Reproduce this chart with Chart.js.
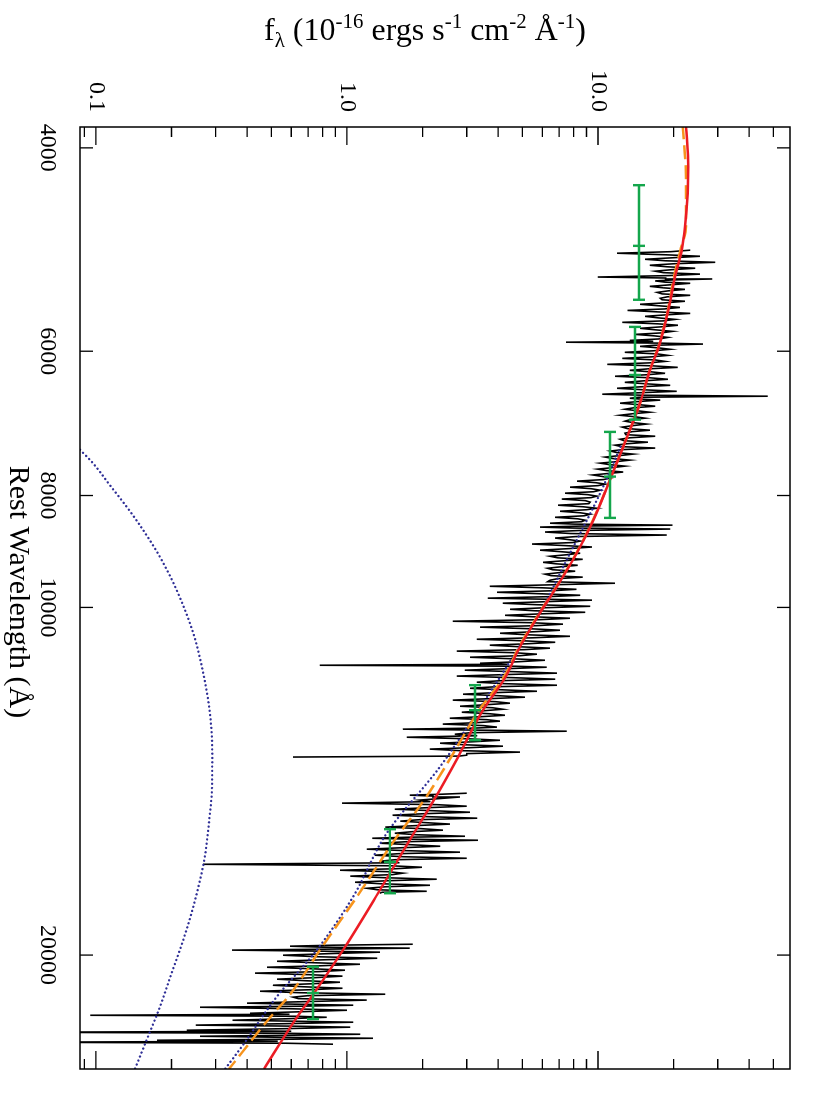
<!DOCTYPE html>
<html>
<head>
<meta charset="utf-8">
<script src="https://cdn.jsdelivr.net/npm/chart.js@4.4.1/dist/chart.umd.min.js"></script>
<style>
  html, body { margin: 0; padding: 0; background: #fff; overflow: hidden; }
  #page { position: relative; width: 830px; height: 1107px; }
  /* the plot is drawn landscape and turned a quarter clockwise */
  #wrap { position: absolute; left: 0; top: 0; width: 1107px; height: 830px;
          transform-origin: 0 0; transform: translate(830px, 0) rotate(90deg); }
</style>
</head>
<body>
<div id="page"><div id="wrap"><canvas id="sed" width="1107" height="830"></canvas></div></div>
<script>
const FONT = "'Liberation Serif', 'Times New Roman', serif";

// observed spectrum, noise excursions: rest wavelength (Å) / flux (1e-16 erg s-1 cm-2 Å-1), null = telluric gap
const specWave = [
  4905, 4935, 4965, 4995, 5025, 5055, 5085, 5115, 5145, 5175, 5195, 5215, 5240, 5272, 5304, 5336,
  5367, 5399, 5431, 5464, 5498, 5531, 5564, 5597, 5631, 5664, 5697, 5732, 5767, 5802, 5837, 5872,
  5893, 5915, 5942, 5977, 6013, 6050, 6086, 6123, 6159, 6196, 6233, 6270, 6307, 6345, 6384, 6422,
  6460, 6499, 6537, 6563, 6590, 6614, 6655, 6695, 6736, 6776, 6817, 6857, 6898,
  6938, 6980, 7023, 7065, 7108, 7151, 7193, 7236, 7278, 7321, 7366, 7410, 7455, 7500, 7545, 7590,
  7634, 7679, 7726, 7774, 7821, 7868, 7916, 7963, 8010, 8057, 8106, 8156, 8206, 8255, 8305, 8355,
  8404, 8454, 8487, 8520, 8553, 8604, 8656, 8708, 8761, 8813, 8865, 8921, 8976, 9030, 9085, 9140,
  9194, 9249, 9303, 9358, 9414, 9472, 9529, 9587, 9645, 9702, 9760, 9817,
  9856, 9916, 9977, 10037, 10097, 10158, 10218, 10279, 10339, 10401, 10465, 10528, 10592, 10655,
  10719, 10782, 10846, 10910, 10977, 11044, 11110, 11177, 11222, 11266, 11333, 11400, 11467, 11538,
  11608, 11678, 11749, 11819, 11889, 11960, 12030, 12104, 12177, 12251, 12324, 12398, 12472, 12545,
  12619, 12695, 12747, 12799, 12876, 12954, 13032, 13109, 13187, 13264, 13344, 13425, 13476,
  14000,
  14483, 14540, 14593, 14683, 14773, 14863, 14953, 15043, 15133, 15223, 15313, 15403, 15496, 15591,
  15686, 15781, 15844, 15907, 16002, 16098, 16193, 16290, 16389, 16489, 16588, 16688, 16787, 16887,
  16986, 17087, 17192, 17296, 17401, 17506, 17611, 17680,
  18600,
  19572, 19649, 19726, 19803, 19884, 20005, 20126, 20248, 20369, 20491, 20612, 20733, 20857, 20984,
  21112, 21240, 21367, 21495, 21623, 21750, 21878, 22012, 22102, 22192, 22326, 22460, 22550, 22640,
  22774, 22864, 22998, 23092, 23233, 23327, 23420, 23514, 23608, 23702, 23796, 23890
];
const specFlux = [
  23.3, 11.9, 25.5, 15.4, 29.3, 16.1, 24.4, 16.9, 25.5, 9.97, 28.5, 16.9, 23.3, 16.1, 22.2, 17.2,
  23.3, 17.7, 22.2, 14.7, 21.2, 13.1, 23.3, 15.4, 20.3, 12.5, 20.8, 14.7, 19.8, 14.05, 19.0, 13.4,
  7.46, 26.2, 14.7, 19.4, 12.8, 19.0, 12.5, 18.5, 10.9, 20.8, 13.4, 18.5, 11.7, 19.0, 12.8, 19.4,
  11.9, 20.6, 10.4, 47.5, 13.4, 17.7, 12.25, 16.9, 12.8, 16.1, 12.25, 15.4, 12.8,
  15.6, 12.5, 16.1, 12.8, 16.9, 12.25, 15.8, 11.7, 16.9, 11.2, 13.8, 10.7, 13.4, 10.2, 12.8, 9.97,
  12.6, 9.53, 11.2, 8.25, 10.7, 7.74, 10.2, 7.40, 9.9, 7.18, 9.31, 6.93, 9.9, 7.06, 9.31, 6.75,
  8.89, 6.44, 19.8, 5.88, 19.4, 6.15, 18.8, 6.75, 8.49, 5.46, 9.46, 5.88, 8.49, 6.44, 8.7, 6.04,
  8.3, 6.3, 8.11, 6.15, 8.7, 6.44, 11.7, 3.71, 8.2, 3.96, 8.49, 3.64,
  9.46, 4.18, 9.31, 4.46, 8.89, 4.26, 7.74, 2.64, 7.25, 3.39, 7.06, 4.07, 7.74, 3.29,
  6.75, 3.71, 6.44, 2.74, 5.71, 3.09, 6.15, 3.39, 0.78, 6.25, 2.95, 6.87, 2.74, 6.75,
  3.29, 6.87, 3.09, 5.71, 2.90, 5.12, 2.64, 4.46, 2.82, 4.18, 2.87, 4.26, 2.57, 4.07,
  2.41, 3.96, 1.67, 7.5, 2.69, 1.73, 4.07, 2.35, 4.18, 2.14, 4.89, 3.0, 0.61,
  null,
  3.0, 1.78, 2.82, 1.95, 0.955, 3.0, 1.55, 3.09, 1.52, 3.3, 1.63, 2.57, 1.42, 2.41,
  1.55, 2.95, 1.26, 3.33, 1.353, 2.35, 1.20, 2.82, 1.29, 3.0, 1.353, 0.267, 1.99, 0.938,
  1.67, 1.03, 2.28, 1.076, 2.14, 1.2, 2.08, 1.35,
  null,
  1.83, 0.593, 1.78, 0.348, 1.353, 0.556, 1.32, 0.526, 1.127, 0.48, 0.982, 0.43, 0.96, 0.526,
  0.938, 0.507, 0.96, 0.45, 1.42, 0.61, 1.2, 0.40, 1.06, 0.26, 1.0, 0.411, 0.095, 0.83,
  0.35, 1.06, 0.25, 1.03, 0.23, 0.05, 1.13, 0.26, 1.27, 0.175, 0.05, 0.88
];

// dense core of the spectrum between the excursions
const coreWave = [
  4920, 4950, 4980, 5010, 5040, 5070, 5100, 5130, 5160, 5185, 5205, 5228, 5256, 5288, 5320, 5352,
  5383, 5415, 5448, 5481, 5515, 5548, 5581, 5614, 5648, 5681, 5715, 5750, 5785, 5820, 5855, 5883,
  5904, 5929, 5960, 5995, 6032, 6068, 6105, 6141, 6178, 6215, 6252, 6289, 6326, 6365, 6403, 6441,
  6480, 6518, 6550, 6577, 6602, 6635, 6675, 6716, 6756, 6797, 6837, 6878, 6918,
  6959, 7001, 7044, 7086, 7130, 7172, 7215, 7257, 7300, 7344, 7388, 7432, 7478, 7522, 7568, 7612,
  7656, 7702, 7750, 7798, 7844, 7892, 7940, 7986, 8034, 8082, 8131, 8181, 8230, 8280, 8330, 8380,
  8429, 8470, 8503, 8536, 8578, 8630, 8682, 8734, 8787, 8839, 8893, 8948, 9003, 9058, 9112, 9167,
  9222, 9276, 9330, 9386, 9443, 9500, 9558, 9616, 9674, 9731, 9788, 9836,
  9886, 9946, 10007, 10067, 10128, 10188, 10248, 10309, 10370, 10433, 10496, 10560, 10624, 10687,
  10750, 10814, 10878, 10944, 11010, 11077, 11144, 11200, 11244, 11300, 11366, 11434, 11502, 11573,
  11643, 11714, 11784, 11854, 11924, 11995, 12067, 12140, 12214, 12288, 12361, 12435, 12508, 12582,
  12657, 12721, 12773, 12838, 12915, 12993, 13070, 13148, 13226, 13304, 13384, 13450,
  14512, 14566, 14638, 14728, 14818, 14908, 14998, 15088, 15178, 15268, 15358, 15450, 15544, 15638,
  15734, 15812, 15876, 15954, 16050, 16146, 16242, 16340, 16439, 16538, 16638, 16738, 16837, 16936,
  17036, 17140, 17244, 17348, 17454, 17558, 17646,
  19610, 19688, 19764, 19844, 19944, 20066, 20187, 20308, 20430, 20552, 20672, 20795, 20920, 21048,
  21176, 21304, 21431, 21559, 21686, 21814, 21945, 22057, 22147, 22259, 22393, 22505, 22595, 22707,
  22819, 22931, 23045, 23162, 23280, 23373, 23467, 23561, 23655, 23749, 23843
];
const coreFlux = [
  19.5, 18.4, 19.8, 18.6, 20.0, 18.8, 19.6, 18.2, 19.2, 18.6, 19.9, 18.5, 19.4, 18.3, 19.0, 18.0,
  18.9, 18.0, 18.6, 17.6, 18.4, 17.5, 18.5, 17.4, 18.2, 17.3, 17.9, 17.0, 17.8, 16.9, 17.5, 16.6,
  17.8, 16.8, 17.4, 16.6, 17.2, 16.3, 16.9, 16.0, 16.6, 15.8, 16.3, 15.5, 16.0, 15.2, 15.6, 14.8,
  15.3, 14.6, 15.0, 14.5, 14.9, 14.2, 14.6, 13.9, 14.3, 13.7, 14.0, 13.4, 13.8,
  13.8, 13.1, 13.6, 12.9, 13.4, 12.7, 13.1, 12.4, 12.6, 11.9, 12.2, 11.5, 11.8, 11.1, 11.4, 10.8,
  11.0, 10.4, 10.5, 9.8, 10.0, 9.4, 9.6, 9.1, 9.4, 8.9, 9.2, 8.7, 9.0, 8.5, 8.8, 8.3,
  8.6, 8.1, 8.5, 7.9, 8.4, 7.8, 8.2, 7.6, 7.9, 7.3, 7.7, 7.1, 7.5, 6.9, 7.3, 6.8,
  7.1, 6.6, 7.0, 6.5, 6.9, 6.3, 6.7, 6.0, 6.5, 5.9, 6.3, 5.9,
  6.2, 5.7, 6.1, 5.6, 6.0, 5.5, 5.8, 5.4, 5.7, 5.3, 5.6, 5.2, 5.5, 5.0,
  5.3, 4.8, 5.1, 4.6, 4.9, 4.5, 4.8, 4.4, 4.7, 4.3, 4.6, 4.2, 4.5, 4.1,
  4.3, 3.9, 4.1, 3.8, 4.0, 3.7, 3.9, 3.6, 3.8, 3.5, 3.7, 3.4, 3.6, 3.3,
  3.5, 3.2, 3.4, 3.1, 3.3, 3.0, 3.2, 2.9, 3.1, 2.8, 3.0, 2.8,
  2.40, 2.20, 2.35, 2.15, 2.28, 2.08, 2.20, 2.02, 2.12, 1.95, 2.05, 1.88, 1.98, 1.82,
  1.90, 1.76, 1.85, 1.72, 1.80, 1.66, 1.74, 1.60, 1.68, 1.55, 1.62, 1.50, 1.56, 1.45,
  1.52, 1.40, 1.46, 1.36, 1.42, 1.32, 1.38,
  0.88, 0.80, 0.86, 0.78, 0.84, 0.76, 0.82, 0.74, 0.79, 0.72, 0.77, 0.70, 0.75, 0.68,
  0.73, 0.67, 0.71, 0.65, 0.70, 0.64, 0.68, 0.62, 0.66, 0.60, 0.65, 0.59, 0.63, 0.58,
  0.62, 0.57, 0.61, 0.56, 0.60, 0.55, 0.59, 0.54, 0.58, 0.53, 0.57
];

// model curves
const fitWave = [3824, 4155, 4378, 4682, 4905, 5172, 5529, 5903, 6229, 6653, 7260, 7757, 8404, 8974,
  9598, 10114, 10817, 11510, 12274, 13476, 14683, 15894, 17680, 19680, 21580, 22770, 25100];
const fitFlux = [22.41, 22.9, 22.77, 22.21, 21.55, 20.27, 19.06, 17.66, 16.11, 14.7, 12.61, 11.16, 9.58, 8.23,
  6.85, 5.87, 4.89, 4.26, 3.48, 2.77, 2.22, 1.78, 1.33, 0.982, 0.739, 0.621, 0.467];

const totalWave = [3824, 4241, 4678, 4905, 5172, 5529, 5903, 6229, 6653, 7260, 7757, 8404, 8974,
  9598, 10114, 10817, 11510, 12274, 13476, 14683, 15894, 17680, 19680, 21580, 22770, 25100];
const totalFlux = [21.75, 22.41, 22.41, 21.3, 20.1, 19.0, 17.6, 16.1, 14.7, 12.6, 11.15, 9.55, 8.2,
  6.83, 5.84, 4.85, 4.2, 3.36, 2.6, 2.03, 1.55, 1.12, 0.795, 0.598, 0.484, 0.339];

const plawWave = [7260, 7967, 9099, 9915, 11035, 12030, 13740, 15690, 17810, 19803, 21740, 24010, 25100];
const plawFlux = [12.3, 10.19, 7.5, 6.15, 4.585, 3.546, 2.348, 1.44, 1.057, 0.758, 0.525, 0.381, 0.327];

const dustWave = [7302, 7504, 7837, 8182, 8572, 9042, 9661, 10530, 11405, 12354, 13376, 14297, 15285,
  16552, 18163, 19410, 20734, 22174, 23693, 25100];
const dustFlux = [0.0864, 0.0975, 0.1137, 0.1326, 0.1543, 0.1799, 0.2097, 0.2442, 0.2677, 0.2845, 0.2906,
  0.29, 0.2827, 0.27, 0.2442, 0.2227, 0.2002, 0.1799, 0.1592, 0.143];

// broad-band photometry
const photWave = [4863, 6291, 7704, 12274, 16610, 21570];
const photLo = [4309, 5716, 7047, 11676, 15560, 20470];
const photHi = [5415, 6877, 8365, 13030, 17680, 22720];
const photFlux = [14.56, 14.04, 11.16, 3.236, 1.483, 0.732];

// axes
const waveTicks = [4000, 6000, 8000, 10000, 20000];
const waveLabels = ['4000', '6000', '8000', '10000', '20000'];
const fluxMajor = [0.1, 1, 10];
const fluxLabels = ['0.1', '1.0', '10.0'];
const fluxMinor = [0.09, 0.2, 0.3, 0.4, 0.5, 0.6, 0.7, 0.8, 0.9, 2, 3, 4, 5, 6, 7, 8, 9, 20, 30, 40, 50];
const fluxTitle = [['f', 0], ['λ', -1], [' (10', 0], ['-16', 1], [' ergs s', 0], ['-1', 1], [' cm', 0],
  ['-2', 1], [' Å', 0], ['-1', 1], [')', 0]];

const pts = (xs, ys) => xs.map((x, i) => ({ x, y: ys[i] }));
const spectrum = pts(specWave, specFlux).concat(pts(coreWave, coreFlux)).sort((a, b) => a.x - b.x);

function drawRich(ctx, parts, cx, cy) {
  const big = `32px ${FONT}`, small = `21px ${FONT}`;
  let w = 0;
  parts.forEach(([t, s]) => { ctx.font = s ? small : big; w += ctx.measureText(t).width; });
  let px = cx - w / 2;
  ctx.textAlign = 'left';
  ctx.textBaseline = 'alphabetic';
  parts.forEach(([t, s]) => {
    ctx.font = s ? small : big;
    ctx.fillText(t, px, cy + (s > 0 ? -12 : s < 0 ? 7 : 0));
    px += ctx.measureText(t).width;
  });
}

const photBars = {
  id: 'photBars',
  afterDatasetsDraw(chart) {
    const { ctx, scales: { x, y } } = chart;
    ctx.save();
    ctx.strokeStyle = '#14a64c';
    ctx.lineWidth = 2.4;
    photWave.forEach((w, i) => {
      const py = y.getPixelForValue(photFlux[i]);
      const x0 = x.getPixelForValue(photLo[i]);
      const x1 = x.getPixelForValue(photHi[i]);
      const xm = x.getPixelForValue(w);
      ctx.beginPath();
      ctx.moveTo(x0, py); ctx.lineTo(x1, py);
      [x0, x1, xm].forEach(px => { ctx.moveTo(px, py - 6); ctx.lineTo(px, py + 6); });
      ctx.stroke();
    });
    ctx.restore();
  }
};

const frame = {
  id: 'frame',
  afterDraw(chart) {
    const { ctx, chartArea: a, scales: { x, y } } = chart;
    const seg = (x0, y0, x1, y1) => { ctx.moveTo(x0, y0); ctx.lineTo(x1, y1); };
    ctx.save();
    ctx.strokeStyle = '#000';
    ctx.fillStyle = '#000';
    ctx.lineWidth = 1.5;
    ctx.strokeRect(a.left, a.top, a.right - a.left, a.bottom - a.top);

    ctx.lineWidth = 1.3;
    ctx.beginPath();
    waveTicks.forEach(w => {
      const px = x.getPixelForValue(w);
      seg(px, a.bottom, px, a.bottom - 13);
      seg(px, a.top, px, a.top + 13);
    });
    fluxMajor.forEach(v => {
      const py = y.getPixelForValue(v);
      seg(a.left, py, a.left + 18, py);
      seg(a.right, py, a.right - 18, py);
    });
    fluxMinor.forEach(v => {
      const py = y.getPixelForValue(v);
      seg(a.left, py, a.left + 10, py);
      seg(a.right, py, a.right - 10, py);
    });
    ctx.stroke();

    ctx.font = `24px ${FONT}`;
    ctx.textAlign = 'center';
    ctx.textBaseline = 'alphabetic';
    waveTicks.forEach((w, i) => ctx.fillText(waveLabels[i], x.getPixelForValue(w), a.bottom + 39));
    ctx.textAlign = 'right';
    ctx.textBaseline = 'middle';
    fluxMajor.forEach((v, i) => ctx.fillText(fluxLabels[i], a.left - 15, y.getPixelForValue(v)));

    ctx.font = `30px ${FONT}`;
    ctx.textAlign = 'center';
    ctx.textBaseline = 'alphabetic';
    ctx.fillText('Rest Wavelength (Å)', (a.left + a.right) / 2 - 6, a.bottom + 70);

    ctx.translate(40, (a.top + a.bottom) / 2 + 10);
    ctx.rotate(-Math.PI / 2);
    drawRich(ctx, fluxTitle, 0, 0);
    ctx.restore();
  }
};

const line = { showLine: true, pointRadius: 0, fill: false, spanGaps: false };
const dots = { borderColor: '#2e2e96', borderWidth: 2.3, borderDash: [0.1, 4.2], borderCapStyle: 'round',
  cubicInterpolationMode: 'monotone' };

new Chart(document.getElementById('sed'), {
  type: 'scatter',
  data: {
    datasets: [
      { ...line, label: 'Spectrum', data: spectrum, borderColor: '#000', borderWidth: 1.6, order: 5 },
      { ...line, ...dots, label: 'Hot dust', data: pts(dustWave, dustFlux), order: 4 },
      { ...line, ...dots, label: 'Power law', data: pts(plawWave, plawFlux), order: 3 },
      { ...line, label: 'Total', data: pts(totalWave, totalFlux), borderColor: '#f7941d', borderWidth: 2.5,
        borderDash: [14, 6], cubicInterpolationMode: 'monotone', order: 2 },
      { ...line, label: 'Fit', data: pts(fitWave, fitFlux), borderColor: '#ec1c24', borderWidth: 2.5,
        cubicInterpolationMode: 'monotone', order: 1 }
    ]
  },
  options: {
    responsive: false,
    animation: false,
    layout: { padding: { left: 127, right: 38, top: 40, bottom: 80 } },
    plugins: { legend: { display: false }, tooltip: { enabled: false } },
    scales: {
      x: { type: 'logarithmic', min: 3837, max: 25100, display: false },
      y: { type: 'logarithmic', min: 0.0864, max: 58.2, display: false }
    }
  },
  plugins: [photBars, frame]
});
</script>
</body>
</html>
